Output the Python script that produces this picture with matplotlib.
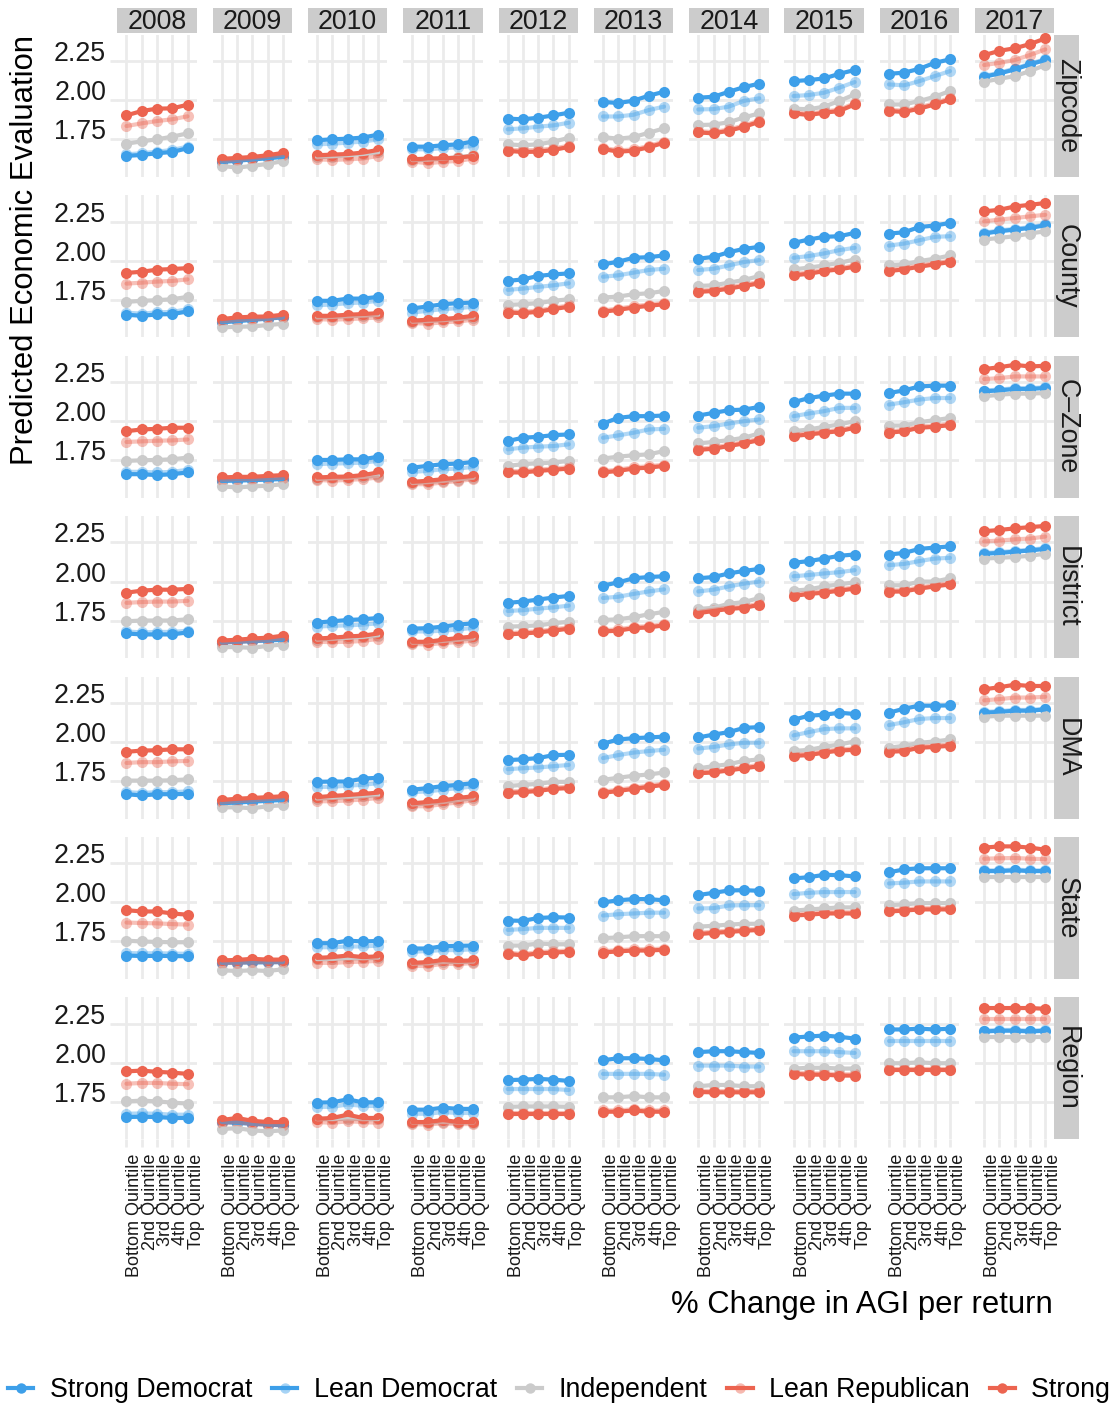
import matplotlib
matplotlib.use("Agg")
import matplotlib.pyplot as plt
from matplotlib.lines import Line2D

plt.rcParams['font.family'] = ['Liberation Sans', 'DejaVu Sans']

years = ['2008', '2009', '2010', '2011', '2012', '2013', '2014', '2015', '2016', '2017']
geographies = ['Zipcode', 'County', 'C\u2013Zone', 'District', 'DMA', 'State', 'Region']
quintiles = ['Bottom Quintile', '2nd Quintile', '3rd Quintile', '4th Quintile', 'Top Quintile']
parties = ['Strong Democrat', 'Lean Democrat', 'Independent', 'Lean Republican', 'Strong Republican']

# predicted evaluation by income quintile, one row per year (2008..2017)
zipcode_sd = [
    [1.645, 1.651, 1.662, 1.670, 1.694], [1.606, 1.614, 1.622, 1.630, 1.638],
    [1.745, 1.751, 1.755, 1.762, 1.781], [1.704, 1.704, 1.713, 1.719, 1.738],
    [1.883, 1.879, 1.889, 1.904, 1.921], [1.990, 1.983, 1.998, 2.030, 2.055],
    [2.017, 2.023, 2.055, 2.085, 2.107], [2.123, 2.130, 2.140, 2.170, 2.194],
    [2.170, 2.177, 2.202, 2.240, 2.262], [2.151, 2.172, 2.198, 2.230, 2.258]]
zipcode_ld = [
    [1.655, 1.662, 1.672, 1.683, 1.704], [1.610, 1.618, 1.626, 1.634, 1.642],
    [1.719, 1.723, 1.730, 1.736, 1.751], [1.687, 1.687, 1.694, 1.700, 1.709],
    [1.815, 1.821, 1.832, 1.840, 1.857], [1.897, 1.897, 1.908, 1.938, 1.960],
    [1.942, 1.944, 1.960, 1.997, 2.013], [2.028, 2.034, 2.049, 2.081, 2.117],
    [2.102, 2.096, 2.123, 2.155, 2.187], [2.156, 2.177, 2.203, 2.235, 2.263]]
zipcode_ind = [
    [1.723, 1.738, 1.751, 1.768, 1.789], [1.581, 1.570, 1.581, 1.594, 1.611],
    [1.636, 1.641, 1.648, 1.657, 1.667], [1.618, 1.620, 1.627, 1.636, 1.648],
    [1.719, 1.713, 1.719, 1.736, 1.760], [1.765, 1.755, 1.765, 1.793, 1.821],
    [1.842, 1.845, 1.860, 1.891, 1.917], [1.947, 1.943, 1.960, 1.996, 2.038],
    [1.974, 1.974, 1.996, 2.023, 2.060], [2.119, 2.138, 2.155, 2.187, 2.226]]
zipcode_lr = [
    [1.836, 1.853, 1.868, 1.879, 1.898], [1.613, 1.619, 1.628, 1.638, 1.651],
    [1.623, 1.619, 1.623, 1.628, 1.645], [1.609, 1.598, 1.607, 1.613, 1.628],
    [1.685, 1.680, 1.683, 1.692, 1.710], [1.697, 1.680, 1.686, 1.708, 1.737],
    [1.803, 1.797, 1.814, 1.839, 1.871], [1.925, 1.914, 1.929, 1.940, 1.982],
    [1.940, 1.934, 1.955, 1.982, 2.014], [2.226, 2.240, 2.258, 2.290, 2.326]]
zipcode_sr = [
    [1.904, 1.932, 1.947, 1.949, 1.972], [1.626, 1.632, 1.638, 1.649, 1.664],
    [1.649, 1.653, 1.657, 1.666, 1.683], [1.623, 1.628, 1.630, 1.634, 1.645],
    [1.677, 1.670, 1.672, 1.683, 1.702], [1.689, 1.672, 1.678, 1.700, 1.729],
    [1.795, 1.789, 1.806, 1.831, 1.863], [1.917, 1.906, 1.921, 1.932, 1.974],
    [1.932, 1.926, 1.947, 1.974, 2.006], [2.289, 2.317, 2.333, 2.360, 2.396]]

county_sd = [
    [1.655, 1.648, 1.657, 1.659, 1.676], [1.606, 1.614, 1.622, 1.630, 1.638],
    [1.744, 1.744, 1.758, 1.758, 1.769], [1.695, 1.708, 1.722, 1.729, 1.733],
    [1.871, 1.881, 1.903, 1.913, 1.919], [1.977, 1.994, 2.019, 2.023, 2.034],
    [2.013, 2.025, 2.055, 2.076, 2.089], [2.114, 2.136, 2.153, 2.157, 2.178],
    [2.174, 2.182, 2.216, 2.225, 2.242], [2.174, 2.189, 2.199, 2.210, 2.227]]
county_ld = [
    [1.668, 1.662, 1.670, 1.673, 1.690], [1.610, 1.617, 1.625, 1.633, 1.641],
    [1.716, 1.720, 1.729, 1.733, 1.744], [1.669, 1.680, 1.691, 1.697, 1.706],
    [1.814, 1.822, 1.833, 1.843, 1.856], [1.898, 1.907, 1.924, 1.941, 1.949],
    [1.941, 1.949, 1.970, 1.992, 2.004], [2.019, 2.030, 2.047, 2.068, 2.083],
    [2.097, 2.110, 2.131, 2.153, 2.157], [2.179, 2.194, 2.204, 2.215, 2.232]]
county_ind = [
    [1.737, 1.744, 1.748, 1.754, 1.769], [1.574, 1.578, 1.580, 1.589, 1.597],
    [1.638, 1.641, 1.645, 1.649, 1.653], [1.610, 1.614, 1.620, 1.627, 1.636],
    [1.718, 1.722, 1.729, 1.744, 1.754], [1.765, 1.771, 1.786, 1.792, 1.807],
    [1.839, 1.843, 1.860, 1.877, 1.903], [1.945, 1.956, 1.970, 1.987, 2.008],
    [1.970, 1.977, 1.998, 2.013, 2.034], [2.136, 2.146, 2.157, 2.174, 2.189]]
county_lr = [
    [1.854, 1.860, 1.867, 1.871, 1.881], [1.612, 1.621, 1.627, 1.631, 1.642],
    [1.627, 1.623, 1.627, 1.631, 1.638], [1.602, 1.598, 1.606, 1.612, 1.623],
    [1.677, 1.673, 1.682, 1.699, 1.714], [1.682, 1.694, 1.709, 1.720, 1.730],
    [1.809, 1.815, 1.830, 1.847, 1.864], [1.915, 1.925, 1.942, 1.953, 1.970],
    [1.942, 1.953, 1.970, 1.985, 2.000], [2.252, 2.263, 2.273, 2.284, 2.294]]
county_sr = [
    [1.922, 1.930, 1.943, 1.947, 1.953], [1.627, 1.638, 1.642, 1.644, 1.655],
    [1.648, 1.648, 1.655, 1.659, 1.665], [1.617, 1.623, 1.627, 1.636, 1.648],
    [1.669, 1.665, 1.674, 1.691, 1.706], [1.674, 1.686, 1.701, 1.712, 1.722],
    [1.801, 1.807, 1.822, 1.839, 1.856], [1.907, 1.917, 1.934, 1.945, 1.962],
    [1.934, 1.945, 1.962, 1.977, 1.992], [2.316, 2.326, 2.347, 2.358, 2.369]]

czone_sd = [
    [1.661, 1.661, 1.655, 1.661, 1.672], [1.618, 1.620, 1.623, 1.626, 1.630],
    [1.752, 1.752, 1.756, 1.756, 1.773], [1.703, 1.714, 1.725, 1.729, 1.739],
    [1.873, 1.894, 1.900, 1.911, 1.915], [1.985, 2.021, 2.032, 2.032, 2.036],
    [2.036, 2.053, 2.070, 2.074, 2.091], [2.121, 2.148, 2.163, 2.176, 2.176],
    [2.180, 2.197, 2.222, 2.227, 2.227], [2.191, 2.197, 2.206, 2.206, 2.212]]
czone_ld = [
    [1.676, 1.676, 1.672, 1.676, 1.689], [1.621, 1.623, 1.626, 1.629, 1.633],
    [1.725, 1.729, 1.731, 1.735, 1.746], [1.676, 1.682, 1.693, 1.697, 1.708],
    [1.820, 1.831, 1.837, 1.841, 1.852], [1.894, 1.909, 1.926, 1.947, 1.951],
    [1.958, 1.968, 1.985, 2.000, 2.011], [2.032, 2.049, 2.064, 2.085, 2.085],
    [2.106, 2.121, 2.138, 2.148, 2.148], [2.196, 2.202, 2.211, 2.211, 2.217]]
czone_ind = [
    [1.746, 1.750, 1.752, 1.756, 1.767], [1.583, 1.576, 1.583, 1.587, 1.597],
    [1.630, 1.634, 1.638, 1.644, 1.650], [1.604, 1.610, 1.618, 1.627, 1.638],
    [1.714, 1.725, 1.731, 1.735, 1.746], [1.761, 1.773, 1.782, 1.788, 1.809],
    [1.858, 1.867, 1.879, 1.894, 1.922], [1.936, 1.947, 1.964, 1.979, 2.000],
    [1.972, 1.972, 1.994, 2.006, 2.021], [2.159, 2.169, 2.176, 2.176, 2.180]]
czone_lr = [
    [1.867, 1.871, 1.875, 1.877, 1.883], [1.625, 1.629, 1.629, 1.634, 1.638],
    [1.625, 1.619, 1.625, 1.629, 1.640], [1.597, 1.597, 1.608, 1.617, 1.629],
    [1.680, 1.680, 1.690, 1.697, 1.705], [1.680, 1.690, 1.705, 1.711, 1.722],
    [1.824, 1.832, 1.849, 1.866, 1.887], [1.913, 1.923, 1.934, 1.944, 1.966],
    [1.934, 1.944, 1.966, 1.972, 1.983], [2.269, 2.275, 2.286, 2.286, 2.286]]
czone_sr = [
    [1.936, 1.947, 1.951, 1.958, 1.958], [1.640, 1.644, 1.644, 1.650, 1.655],
    [1.640, 1.644, 1.646, 1.655, 1.672], [1.612, 1.619, 1.629, 1.640, 1.650],
    [1.672, 1.672, 1.682, 1.689, 1.697], [1.672, 1.682, 1.697, 1.703, 1.714],
    [1.816, 1.824, 1.841, 1.858, 1.879], [1.905, 1.915, 1.926, 1.936, 1.958],
    [1.926, 1.936, 1.958, 1.964, 1.975], [2.333, 2.345, 2.360, 2.350, 2.354]]

district_sd = [
    [1.668, 1.662, 1.662, 1.662, 1.675], [1.610, 1.615, 1.619, 1.623, 1.628],
    [1.738, 1.746, 1.754, 1.759, 1.767], [1.699, 1.702, 1.712, 1.725, 1.733],
    [1.864, 1.872, 1.885, 1.898, 1.908], [1.974, 1.995, 2.021, 2.029, 2.034],
    [2.021, 2.029, 2.052, 2.068, 2.081], [2.120, 2.131, 2.147, 2.165, 2.173],
    [2.173, 2.183, 2.209, 2.217, 2.225], [2.178, 2.183, 2.191, 2.199, 2.209]]
district_ld = [
    [1.681, 1.675, 1.678, 1.678, 1.686], [1.613, 1.618, 1.622, 1.626, 1.631],
    [1.712, 1.717, 1.720, 1.725, 1.733], [1.681, 1.681, 1.686, 1.694, 1.704],
    [1.812, 1.817, 1.827, 1.835, 1.846], [1.895, 1.903, 1.921, 1.937, 1.950],
    [1.937, 1.948, 1.969, 1.987, 2.000], [2.034, 2.042, 2.052, 2.060, 2.073],
    [2.105, 2.113, 2.131, 2.147, 2.152], [2.183, 2.188, 2.196, 2.204, 2.214]]
district_ind = [
    [1.746, 1.751, 1.751, 1.751, 1.759], [1.581, 1.581, 1.576, 1.589, 1.597],
    [1.628, 1.633, 1.640, 1.645, 1.655], [1.609, 1.612, 1.620, 1.628, 1.636],
    [1.712, 1.715, 1.720, 1.733, 1.743], [1.754, 1.759, 1.772, 1.791, 1.806],
    [1.825, 1.832, 1.858, 1.869, 1.895], [1.942, 1.950, 1.969, 1.982, 1.995],
    [1.976, 1.976, 2.000, 2.000, 2.021], [2.147, 2.152, 2.157, 2.165, 2.178]]
district_lr = [
    [1.864, 1.869, 1.872, 1.872, 1.877], [1.610, 1.615, 1.620, 1.628, 1.636],
    [1.615, 1.613, 1.615, 1.620, 1.634], [1.602, 1.597, 1.607, 1.613, 1.623],
    [1.670, 1.676, 1.683, 1.694, 1.707], [1.689, 1.694, 1.710, 1.715, 1.728],
    [1.806, 1.820, 1.833, 1.840, 1.859], [1.916, 1.929, 1.937, 1.950, 1.963],
    [1.943, 1.945, 1.963, 1.977, 1.990], [2.257, 2.262, 2.270, 2.275, 2.288]]
district_sr = [
    [1.929, 1.942, 1.948, 1.948, 1.953], [1.623, 1.628, 1.636, 1.641, 1.654],
    [1.636, 1.641, 1.649, 1.654, 1.668], [1.615, 1.615, 1.628, 1.639, 1.649],
    [1.662, 1.668, 1.675, 1.686, 1.699], [1.681, 1.686, 1.702, 1.707, 1.720],
    [1.798, 1.812, 1.825, 1.832, 1.851], [1.908, 1.921, 1.929, 1.942, 1.955],
    [1.935, 1.937, 1.955, 1.969, 1.982], [2.322, 2.330, 2.340, 2.348, 2.356]]

dma_sd = [
    [1.666, 1.658, 1.666, 1.666, 1.668], [1.608, 1.613, 1.618, 1.624, 1.629],
    [1.745, 1.747, 1.747, 1.766, 1.771], [1.695, 1.705, 1.718, 1.726, 1.737],
    [1.884, 1.889, 1.897, 1.916, 1.918], [1.989, 2.016, 2.024, 2.029, 2.034],
    [2.029, 2.047, 2.063, 2.090, 2.095], [2.142, 2.168, 2.174, 2.187, 2.179],
    [2.187, 2.213, 2.232, 2.232, 2.234], [2.187, 2.192, 2.200, 2.200, 2.208]]
dma_ld = [
    [1.679, 1.674, 1.679, 1.679, 1.684], [1.611, 1.616, 1.621, 1.627, 1.632],
    [1.713, 1.713, 1.721, 1.726, 1.737], [1.679, 1.684, 1.695, 1.705, 1.716],
    [1.826, 1.832, 1.837, 1.845, 1.853], [1.897, 1.916, 1.932, 1.942, 1.950],
    [1.958, 1.968, 1.984, 1.995, 1.995], [2.042, 2.063, 2.082, 2.087, 2.087],
    [2.108, 2.126, 2.147, 2.153, 2.153], [2.192, 2.197, 2.205, 2.205, 2.213]]
dma_ind = [
    [1.753, 1.753, 1.753, 1.755, 1.761], [1.582, 1.582, 1.576, 1.589, 1.595],
    [1.637, 1.642, 1.647, 1.652, 1.660], [1.600, 1.607, 1.616, 1.628, 1.640],
    [1.718, 1.726, 1.732, 1.745, 1.745], [1.758, 1.771, 1.784, 1.792, 1.805],
    [1.832, 1.845, 1.858, 1.879, 1.889], [1.942, 1.950, 1.968, 1.984, 2.003],
    [1.963, 1.976, 1.995, 2.003, 2.016], [2.161, 2.168, 2.168, 2.168, 2.168]]
dma_lr = [
    [1.866, 1.871, 1.871, 1.876, 1.879], [1.613, 1.621, 1.626, 1.634, 1.642],
    [1.621, 1.621, 1.626, 1.632, 1.642], [1.589, 1.589, 1.603, 1.613, 1.629],
    [1.682, 1.687, 1.695, 1.708, 1.713], [1.682, 1.695, 1.708, 1.721, 1.734],
    [1.808, 1.813, 1.826, 1.840, 1.853], [1.919, 1.924, 1.940, 1.953, 1.958],
    [1.945, 1.950, 1.971, 1.976, 1.984], [2.266, 2.274, 2.284, 2.284, 2.289]]
dma_sr = [
    [1.937, 1.945, 1.947, 1.953, 1.953], [1.629, 1.637, 1.642, 1.647, 1.653],
    [1.647, 1.655, 1.661, 1.668, 1.676], [1.608, 1.616, 1.626, 1.642, 1.653],
    [1.674, 1.679, 1.687, 1.700, 1.705], [1.674, 1.687, 1.700, 1.713, 1.726],
    [1.800, 1.805, 1.818, 1.832, 1.845], [1.911, 1.916, 1.932, 1.945, 1.950],
    [1.937, 1.942, 1.963, 1.968, 1.976], [2.337, 2.350, 2.366, 2.358, 2.358]]

state_sd = [
    [1.660, 1.657, 1.658, 1.657, 1.655], [1.613, 1.615, 1.616, 1.617, 1.618],
    [1.739, 1.739, 1.755, 1.750, 1.753], [1.705, 1.705, 1.720, 1.722, 1.724],
    [1.884, 1.882, 1.900, 1.905, 1.903], [2.000, 2.013, 2.021, 2.021, 2.013],
    [2.047, 2.061, 2.076, 2.078, 2.074], [2.153, 2.161, 2.176, 2.174, 2.166],
    [2.192, 2.211, 2.218, 2.218, 2.218], [2.200, 2.200, 2.205, 2.200, 2.200]]
state_ld = [
    [1.676, 1.674, 1.675, 1.673, 1.671], [1.616, 1.618, 1.619, 1.620, 1.621],
    [1.713, 1.713, 1.718, 1.718, 1.724], [1.684, 1.689, 1.695, 1.695, 1.700],
    [1.824, 1.829, 1.837, 1.837, 1.837], [1.916, 1.924, 1.929, 1.934, 1.934],
    [1.961, 1.963, 1.980, 1.982, 1.982], [2.053, 2.061, 2.066, 2.066, 2.066],
    [2.121, 2.126, 2.134, 2.134, 2.134], [2.205, 2.205, 2.210, 2.205, 2.205]]
state_ind = [
    [1.755, 1.750, 1.747, 1.745, 1.745], [1.566, 1.561, 1.566, 1.561, 1.572],
    [1.636, 1.638, 1.642, 1.642, 1.645], [1.608, 1.610, 1.618, 1.618, 1.621],
    [1.724, 1.724, 1.737, 1.732, 1.732], [1.771, 1.776, 1.784, 1.784, 1.784],
    [1.845, 1.850, 1.858, 1.863, 1.863], [1.947, 1.955, 1.961, 1.968, 1.968],
    [1.982, 1.987, 1.995, 1.995, 1.995], [2.161, 2.161, 2.161, 2.161, 2.161]]
state_lr = [
    [1.871, 1.868, 1.866, 1.861, 1.858], [1.613, 1.613, 1.618, 1.618, 1.618],
    [1.613, 1.613, 1.618, 1.621, 1.626], [1.595, 1.592, 1.608, 1.605, 1.613],
    [1.679, 1.669, 1.682, 1.687, 1.692], [1.687, 1.695, 1.700, 1.700, 1.705],
    [1.805, 1.813, 1.819, 1.826, 1.832], [1.924, 1.929, 1.937, 1.937, 1.937],
    [1.950, 1.955, 1.963, 1.963, 1.963], [2.279, 2.282, 2.284, 2.279, 2.276]]
state_sr = [
    [1.950, 1.942, 1.942, 1.929, 1.921], [1.629, 1.632, 1.639, 1.634, 1.634],
    [1.645, 1.650, 1.660, 1.650, 1.655], [1.613, 1.618, 1.632, 1.626, 1.629],
    [1.671, 1.661, 1.674, 1.679, 1.684], [1.679, 1.687, 1.692, 1.692, 1.697],
    [1.797, 1.805, 1.811, 1.818, 1.824], [1.916, 1.921, 1.929, 1.929, 1.929],
    [1.942, 1.947, 1.955, 1.955, 1.955], [2.350, 2.358, 2.358, 2.350, 2.337]]

region_sd = [
    [1.653, 1.655, 1.653, 1.647, 1.647], [1.621, 1.616, 1.610, 1.605, 1.600],
    [1.745, 1.747, 1.766, 1.747, 1.747], [1.700, 1.700, 1.713, 1.705, 1.705],
    [1.889, 1.892, 1.897, 1.892, 1.884], [2.016, 2.029, 2.029, 2.024, 2.016],
    [2.068, 2.074, 2.074, 2.068, 2.063], [2.161, 2.168, 2.174, 2.166, 2.155],
    [2.213, 2.213, 2.218, 2.213, 2.218], [2.200, 2.205, 2.205, 2.200, 2.205]]
region_ld = [
    [1.674, 1.676, 1.674, 1.668, 1.668], [1.624, 1.619, 1.613, 1.608, 1.603],
    [1.718, 1.718, 1.734, 1.724, 1.724], [1.674, 1.674, 1.684, 1.679, 1.679],
    [1.832, 1.832, 1.832, 1.832, 1.826], [1.929, 1.929, 1.929, 1.929, 1.924],
    [1.982, 1.982, 1.982, 1.976, 1.976], [2.074, 2.074, 2.074, 2.068, 2.063],
    [2.139, 2.139, 2.139, 2.139, 2.139], [2.205, 2.210, 2.210, 2.205, 2.210]]
region_ind = [
    [1.753, 1.758, 1.753, 1.745, 1.739], [1.576, 1.582, 1.568, 1.561, 1.568],
    [1.639, 1.639, 1.642, 1.639, 1.639], [1.618, 1.618, 1.621, 1.618, 1.618],
    [1.718, 1.721, 1.721, 1.721, 1.718], [1.779, 1.779, 1.787, 1.779, 1.779],
    [1.850, 1.858, 1.858, 1.850, 1.850], [1.963, 1.968, 1.968, 1.963, 1.963],
    [1.997, 1.997, 2.003, 1.997, 1.997], [2.166, 2.166, 2.166, 2.166, 2.166]]
region_lr = [
    [1.866, 1.871, 1.871, 1.866, 1.863], [1.616, 1.621, 1.608, 1.603, 1.600],
    [1.621, 1.616, 1.626, 1.621, 1.616], [1.608, 1.605, 1.613, 1.608, 1.608],
    [1.682, 1.682, 1.682, 1.682, 1.682], [1.695, 1.695, 1.703, 1.695, 1.695],
    [1.821, 1.819, 1.819, 1.819, 1.819], [1.937, 1.932, 1.932, 1.926, 1.926],
    [1.963, 1.963, 1.963, 1.963, 1.963], [2.279, 2.279, 2.279, 2.279, 2.279]]
region_sr = [
    [1.945, 1.950, 1.942, 1.937, 1.929], [1.634, 1.647, 1.629, 1.621, 1.621],
    [1.642, 1.647, 1.668, 1.647, 1.647], [1.621, 1.621, 1.634, 1.621, 1.621],
    [1.674, 1.674, 1.674, 1.674, 1.674], [1.687, 1.687, 1.695, 1.687, 1.687],
    [1.813, 1.811, 1.811, 1.811, 1.811], [1.929, 1.924, 1.924, 1.918, 1.918],
    [1.955, 1.955, 1.955, 1.955, 1.955], [2.350, 2.350, 2.350, 2.350, 2.345]]

panel_data = {
    'Zipcode': [zipcode_sd, zipcode_ld, zipcode_ind, zipcode_lr, zipcode_sr],
    'County': [county_sd, county_ld, county_ind, county_lr, county_sr],
    'C\u2013Zone': [czone_sd, czone_ld, czone_ind, czone_lr, czone_sr],
    'District': [district_sd, district_ld, district_ind, district_lr, district_sr],
    'DMA': [dma_sd, dma_ld, dma_ind, dma_lr, dma_sr],
    'State': [state_sd, state_ld, state_ind, state_lr, state_sr],
    'Region': [region_sd, region_ld, region_ind, region_lr, region_sr],
}

BLUE = '#3D9FE9'
RED = '#EC6450'
GREY = '#CBCBCB'
colors = [BLUE, BLUE, GREY, RED, RED]
alphas = [1.0, 0.4, 1.0, 0.4, 1.0]
GRID = '#EBEBEB'
STRIP = '#CCCCCC'
FS = 19.3

W, H = 1116, 1408
fig = plt.figure(figsize=(W / 100, H / 100), dpi=100)

col_left, col_step, pw = 117.3, 95.3, 79.4
row_top, row_step, ph = 35.0, 160.4, 142.0
xs = list(range(len(quintiles)))

for r, geo in enumerate(geographies):
    for c, yr in enumerate(years):
        left = col_left + c * col_step
        top = row_top + r * row_step
        ax = fig.add_axes([left / W, 1 - (top + ph) / H, pw / W, ph / H])
        ax.set_xlim(-0.6, 4.6)
        ax.set_ylim(1.510, 2.418)
        ax.set_xticks(xs)
        ax.set_yticks([1.75, 2.00, 2.25])
        ax.grid(True, color=GRID, linewidth=2.0)
        ax.set_axisbelow(True)
        for s in ax.spines.values():
            s.set_visible(False)
        ax.tick_params(color=GRID, width=2.0, length=5, labelsize=FS,
                       labelcolor='#1A1A1A', pad=3)

        series = panel_data[geo]
        # points first, then the connecting lines on top
        for k in range(5):
            ax.plot(xs, series[k][c], 'o', ms=8.0, mec='none', color=colors[k],
                    alpha=alphas[k], zorder=3, clip_on=False)
        for k in range(5):
            ax.plot(xs, series[k][c], '-', lw=3.0, color=colors[k],
                    alpha=alphas[k], zorder=4, solid_capstyle='round', clip_on=False)

        if c == 0:
            ax.set_yticklabels(['1.75', '2.00', '2.25'])
            for lab in ax.get_yticklabels():
                lab.set_va('baseline')
        else:
            ax.tick_params(axis='y', left=False, labelleft=False)
        if r == len(geographies) - 1:
            ax.set_xticklabels(quintiles, rotation=90, ha='left', va='top',
                               fontsize=13.0)
            ax.tick_params(axis='x', length=6, pad=4)
        else:
            ax.tick_params(axis='x', bottom=False, labelbottom=False)

        # year strip on top row
        if r == 0:
            sax = fig.add_axes([left / W, 1 - (top - 2) / H, pw / W, 25 / H])
            sax.set_facecolor(STRIP)
            sax.set_xticks([])
            sax.set_yticks([])
            for s in sax.spines.values():
                s.set_visible(False)
            sax.text(0.5, 0.45, yr, ha='center', va='center', fontsize=FS,
                     color='#1A1A1A', transform=sax.transAxes)
        # geography strip on right column
        if c == len(years) - 1:
            sax = fig.add_axes([(left + pw) / W, 1 - (top + ph) / H, 25 / W, ph / H])
            sax.set_facecolor(STRIP)
            sax.set_xticks([])
            sax.set_yticks([])
            for s in sax.spines.values():
                s.set_visible(False)
            sax.text(0.5, 0.5, geo, ha='center', va='center', rotation=-90,
                     fontsize=FS, color='#1A1A1A', transform=sax.transAxes)

fig.text(25 / W, 1 - 35 / H, 'Predicted Economic Evaluation', rotation=90,
         ha='center', va='top', fontsize=22.3)
fig.text(1053 / W, 1 - 1305 / H, '% Change in AGI per return', ha='right',
         va='center', fontsize=22.3)

handles = []
for k in range(5):
    mfc = matplotlib.colors.to_rgba(colors[k], 0.45 if alphas[k] < 1.0 else 1.0)
    handles.append(Line2D([0], [0], color=colors[k], lw=3.0, marker='o', ms=7.5,
                          mec='none', mfc=mfc))
# the last entry runs past the right edge, as in a wide ggplot legend
fig.legend(handles, parties, loc='center left', bbox_to_anchor=(8 / W, 1 - 1390 / H),
           ncol=5, frameon=False, fontsize=FS, handlelength=0.95, handletextpad=0.6,
           columnspacing=0.75, borderpad=0, borderaxespad=0)

fig.savefig('out.png', dpi=100)
